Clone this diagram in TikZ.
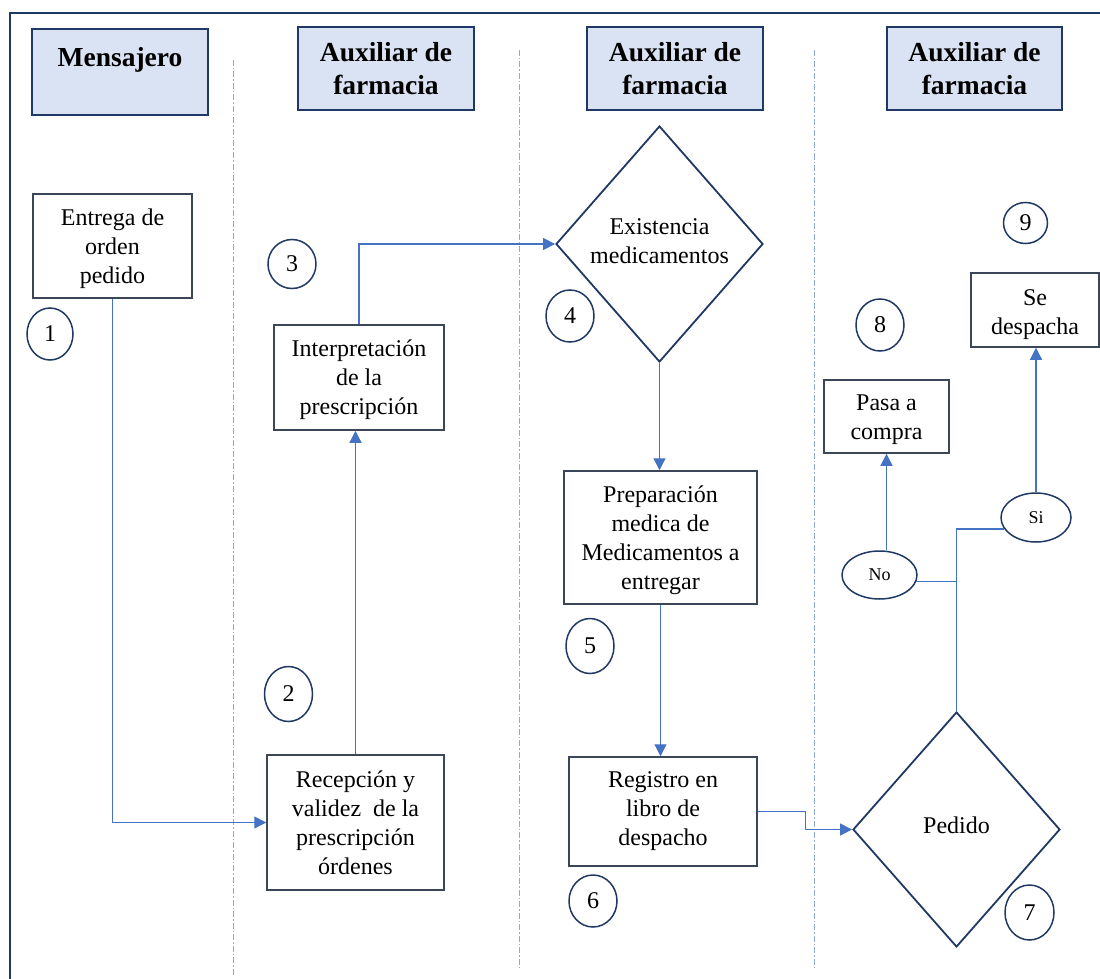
\documentclass[tikz,border=0pt]{standalone}
\usepackage{fontspec}
\setmainfont{Liberation Serif}
\usetikzlibrary{shapes.geometric,arrows.meta}
\definecolor{navy}{HTML}{1F3864}
\definecolor{hdrfill}{HTML}{DAE3F3}
\definecolor{boxline}{HTML}{3C4659}
\definecolor{connblue}{HTML}{4472C4}
\definecolor{lanecol}{HTML}{8FAADC}
\newcommand{\topstrt}{\rule{0pt}{22pt}}
\begin{document}
\begin{tikzpicture}[x=1pt,y=-1pt,
  hdr/.style={draw=navy,line width=1.5pt,fill=hdrfill,rectangle,inner sep=0pt,align=center,
    font=\bfseries\fontsize{27.5}{33}\selectfont},
  procbox/.style={draw=boxline,line width=1.5pt,rectangle,inner sep=0pt,align=center,
    font=\fontsize{24}{29}\selectfont},
  decision/.style={draw=navy,line width=1.8pt,diamond,inner sep=0pt,
    minimum width=207pt,minimum height=236pt},
  dlabel/.style={align=center,font=\fontsize{24}{29}\selectfont},
  answer/.style={draw=navy,line width=1.5pt,ellipse,inner sep=0pt,
    font=\fontsize{18}{22}\selectfont},
  stepnum/.style={draw=navy,line width=1.5pt,ellipse,inner sep=0pt,
    minimum width=48pt,minimum height=52pt,font=\fontsize{24}{29}\selectfont},
  conn/.style={draw=connblue,line width=1.2pt,-{Triangle[length=12pt,width=12pt]}},
  plainline/.style={draw=connblue,line width=1.2pt},
  lane/.style={draw=lanecol,line width=1pt,dash pattern=on 6pt off 2pt on 1.5pt off 2pt},
  frame/.style={draw=navy,line width=2.5pt}
]
\useasboundingbox (0,0) rectangle (1100,979);

% frame
\draw[frame] (10,979) -- (10,13) -- (1100,13);

% lanes
\draw[lane] (233,60) -- (233,975);
\draw[lane] (519,50) -- (519,968);
\draw[lane] (814,50) -- (814,968);

% headers
\node[hdr,minimum width=176pt,minimum height=86pt] (h1) at (120,72) {Mensajero\\[-12pt]\strut};
\node[hdr,minimum width=176pt,minimum height=83pt] (h2) at (386,68.5) {Auxiliar de\\farmacia};
\node[hdr,minimum width=176pt,minimum height=83pt] (h3) at (675,68.5) {Auxiliar de\\farmacia};
\node[hdr,minimum width=175pt,minimum height=83pt] (h4) at (974.5,68.5) {Auxiliar de\\farmacia};

% process boxes
\node[procbox,minimum width=159pt,minimum height=104pt] (entrega) at (112.5,246) {\topstrt Entrega de\\orden\\pedido};
\node[procbox,minimum width=170pt,minimum height=105pt] (interp) at (359,377.5) {\topstrt Interpretación\\de la\\prescripción};
\node[procbox,minimum width=177pt,minimum height=135pt] (recep) at (355.5,822.5) {Recepción y\\validez\ \ de la\\prescripción\\órdenes};
\node[procbox,minimum width=193pt,minimum height=133pt] (prep) at (660.5,537.5) {\topstrt Preparación\\medica de\\Medicamentos a\\entregar};
\node[procbox,minimum width=188pt,minimum height=109pt] (regis) at (663,811.5) {Registro en\\libro de\\despacho};
\node[procbox,minimum width=125pt,minimum height=73pt] (pasa) at (886.5,416.5) {\topstrt Pasa a\\compra};
\node[procbox,minimum width=128pt,minimum height=74pt] (sedesp) at (1035,310) {\rule{0pt}{26pt}Se\\despacha};

% decisions
\node[decision,label={[dlabel,yshift=3pt]center:Existencia\\medicamentos}] (exist) at (659.5,244) {};
\node[decision,minimum height=235pt,label={[dlabel,yshift=4pt]center:Pedido}] (pedido) at (956.5,829.5) {};

% answers
\node[answer,minimum width=75pt,minimum height=48pt] (no) at (879.5,575) {No};
\node[answer,minimum width=70pt,minimum height=49pt] (si) at (1036,517.5) {Si};

% step numbers
\node[stepnum,minimum width=46pt] (c1) at (50,334) {1};
\node[stepnum,minimum height=55pt] (c2) at (288.5,694) {2};
\node[stepnum,minimum height=49pt] (c3) at (292,264) {3};
\node[stepnum] (c4) at (570,316) {4};
\node[stepnum,minimum height=55pt] (c5) at (590,646) {5};
\node[stepnum] (c6) at (593,901) {6};
\node[stepnum,minimum width=49pt,minimum height=55pt] (c7) at (1029.5,912.5) {7};
\node[stepnum] (c8) at (880,325) {8};
\node[stepnum,minimum width=44pt,minimum height=41pt] (c9) at (1025.5,223) {9};

% connectors
\draw[conn] (entrega.south) |- (recep.west);
\draw[conn] (recep.north) -- (recep.north |- interp.south);
\draw[conn] (interp.north) |- (exist.west);
\draw[conn] (exist.south) -- (exist.south |- prep.north);
\draw[conn] (prep.south) -- (prep.south |- regis.north);
\draw[conn] (regis.east) -- ++(48,0) |- (pedido.west);
\draw[plainline] (pedido.north) |- (si.200);
\draw[plainline] (no.-10) -- (no.-10 -| pedido.north);
\draw[conn] (no.north -| pasa.south) -- (pasa.south);
\draw[conn] (si.north) -- (si.north |- sedesp.south);
\end{tikzpicture}
\end{document}
